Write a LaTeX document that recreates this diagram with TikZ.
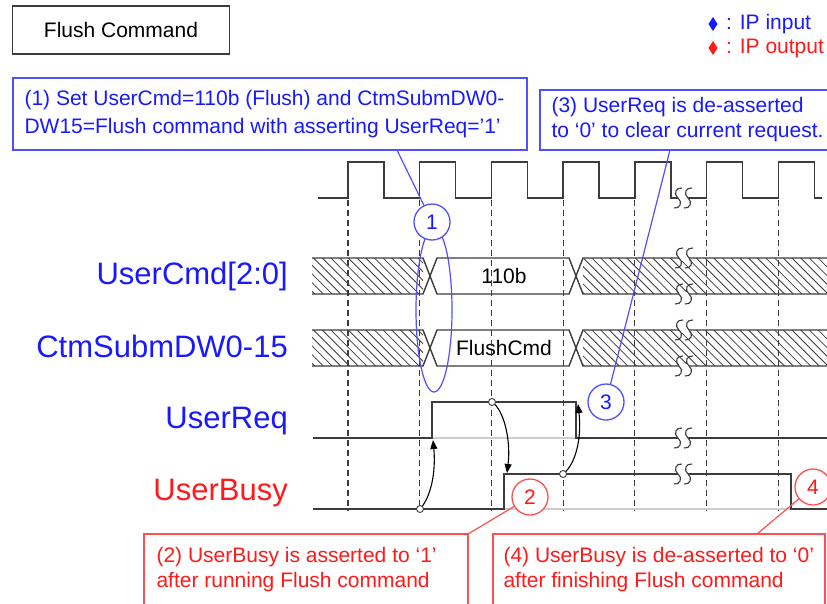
\documentclass[tikz,border=0pt]{standalone}
\usepackage{fontspec}
\setmainfont{Liberation Sans}
\usetikzlibrary{arrows.meta}
\definecolor{txtblue}{RGB}{25,25,255}
\definecolor{txtred}{RGB}{255,25,25}
\definecolor{bdblue}{RGB}{80,80,255}
\definecolor{bdred}{RGB}{255,80,80}
\definecolor{sig}{RGB}{60,60,60}
\definecolor{ghost}{RGB}{205,205,205}
\newcommand\fsz[2]{\fontsize{#1}{#2}\selectfont}
\newcommand\brkmark[2]{%
  \fill[white] ({#1-5},{#2-2.5}) rectangle ({#1+5},{#2+2.5});
  \foreach \dx in {-5,5} {
    \draw[breakmark] ({#1+\dx+4},{#2-10}) .. controls ({#1+\dx-2},{#2-11}) and ({#1+\dx-5},{#2-4}) .. ({#1+\dx},{#2}) .. controls ({#1+\dx+5},{#2+4}) and ({#1+\dx+2},{#2+11}) .. ({#1+\dx-4},{#2+10});
  }%
}
\tikzset{
  sigline/.style={draw=sig, line width=1.4pt},
  gridline/.style={draw=sig, line width=1.1pt, dash pattern=on 6pt off 4pt},
  ghostline/.style={draw=ghost, line width=1.4pt},
  hatchline/.style={draw=sig, line width=0.8pt},
  breakmark/.style={draw=sig, line width=1.1pt},
  bluebox/.style={draw=bdblue, line width=1.3pt, rectangle, inner sep=0pt},
  redbox/.style={draw=bdred, line width=1.3pt, rectangle, inner sep=0pt},
  titlebox/.style={draw=sig, line width=1.6pt, rectangle, inner sep=0pt, font=\fsz{21}{25}},
  bluetext/.style={text=txtblue, align=left, inner sep=0pt, anchor=west},
  redtext/.style={text=txtred, align=left, inner sep=0pt, anchor=west},
  bluecirc/.style={circle, draw=bdblue, line width=1.3pt, fill=white, minimum size=36pt, inner sep=0pt, text=txtblue, font=\fsz{21}{25}},
  redcirc/.style={circle, draw=bdred, line width=1.3pt, fill=white, minimum size=36pt, inner sep=0pt, text=txtred, font=\fsz{21}{25}},
  siglabel/.style={anchor=base east, font=\fsz{31}{35}, inner sep=0pt},
  bluelink/.style={draw=bdblue, line width=1.2pt},
  redlink/.style={draw=bdred, line width=1.2pt},
  causal/.style={draw=black, line width=1.1pt, -{Triangle[length=9pt,width=7pt]}},
  dotc/.style={circle, draw=sig, fill=white, line width=0.9pt, minimum size=7pt, inner sep=0pt},
  valtext/.style={font=\fsz{21}{25}, inner sep=0pt},
}
\begin{document}
\begin{tikzpicture}[x=1pt,y=-1pt]
\useasboundingbox (0,0) rectangle (827,603);

% title and legend
\node[titlebox, minimum width=217pt, minimum height=48pt] (title) at (121,30) {Flush Command};
\fill[txtblue] (713,17) -- (717.5,24) -- (713,31) -- (708.5,24) -- cycle;
\fill[txtred] (713,41) -- (717.5,48) -- (713,55) -- (708.5,48) -- cycle;
\node[anchor=west, inner sep=0pt, text=txtblue, font=\fsz{21}{25}] (leg1) at (726,24) {: IP input};
\node[anchor=west, inner sep=0pt, text=txtred, font=\fsz{21}{25}] (leg2) at (726,48) {: IP output};

% signal labels
\node[siglabel, text=txtblue] (lcmd) at (288,284) {UserCmd[2:0]};
\node[siglabel, text=txtblue] (ldw) at (288,357) {CtmSubmDW0-15};
\node[siglabel, text=txtblue] (lreq) at (288,428) {UserReq};
\node[siglabel, text=txtred] (lbusy) at (288,500) {UserBusy};

% hatching of buses
\begin{scope}
  \clip (312,258) rectangle (423,294) (583,258) rectangle (830,294)
        (312,330) rectangle (423,366) (583,330) rectangle (830,366);
  \foreach \i in {0,...,66} {
    \draw[hatchline] ({270+8.7*\i},258) -- ({306+8.7*\i},294);
    \draw[hatchline] ({270+8.7*\i},330) -- ({306+8.7*\i},366);
  }
\end{scope}

% bus outlines
\foreach \t in {258,330} {
  \pgfmathsetmacro\b{\t+36}
  \draw[sigline] (312,\t) -- (423,\t) -- (437,\b) -- (569,\b) -- (583,\t) -- (830,\t);
  \draw[sigline] (312,\b) -- (423,\b) -- (437,\t) -- (569,\t) -- (583,\b) -- (830,\b);
}
\node[valtext] (v1) at (504,276) {110b};
\node[valtext] (v2) at (504,348) {FlushCmd};

% clock
\draw[sigline] (318,198) foreach \k in {0,...,6} {
  -- ({348+71.7*\k},198) -- ({348+71.7*\k},162) -- ({384+71.7*\k},162) -- ({384+71.7*\k},198)
} -- (822,198);

% grid
\foreach \k in {0,...,6} \draw[gridline] ({348+71.7*\k},200) -- ({348+71.7*\k},511);

% ghost low levels
\draw[ghostline] (432,438) -- (576,438);
\draw[ghostline] (504,509) -- (791,509);

% UserReq and UserBusy
\draw[sigline] (313,438) -- (432,438) -- (432,402) -- (576,402) -- (576,438) -- (830,438);
\draw[sigline] (313,509) -- (504,509) -- (504,474) -- (791,474) -- (791,509) -- (830,509);

% break marks
\brkmark{683}{198}
\brkmark{684}{258}
\brkmark{684}{294}
\brkmark{684}{330}
\brkmark{684}{366}
\brkmark{683}{438}
\brkmark{683}{474}

% causal arrows
\coordinate (a1s) at (420,509); \coordinate (a1e) at (433,440);
\coordinate (a2s) at (492,402); \coordinate (a2e) at (507,473);
\coordinate (a3s) at (563,474); \coordinate (a3e) at (578,404);
\draw[causal] (a1s) .. controls (431,497) and (436,472) .. (a1e);
\draw[causal] (a2s) .. controls (504,410) and (511,440) .. (a2e);
\draw[causal] (a3s) .. controls (575,465) and (582,440) .. (a3e);
\node[dotc] (d1) at (a1s) {};
\node[dotc] (d2) at (a2s) {};
\node[dotc] (d3) at (a3s) {};

% callout boxes
\node[bluebox, minimum width=514pt, minimum height=72pt] (box1) at (270,114) {};
\node[bluetext, font=\fsz{21}{28}] (t1) at ([xshift=12pt]box1.west) {(1) Set UserCmd=110b (Flush) and CtmSubmDW0-\\DW15=Flush command with asserting UserReq=’1’};
\node[bluebox, minimum width=300pt, minimum height=60pt] (box3) at (690,120) {};
\node[bluetext, font=\fsz{21}{25}] (t3) at ([xshift=12pt]box3.west) {(3) UserReq is de-asserted\\to ‘0’ to clear current request.};
\node[redbox, minimum width=324pt, minimum height=71pt] (box2) at (306,569.5) {};
\node[redtext, font=\fsz{21}{25}] (t2) at ([xshift=13pt]box2.west) {(2) UserBusy is asserted to ‘1’\\after running Flush command};
\node[redbox, minimum width=332pt, minimum height=71pt] (box4) at (659,569.5) {};
\node[redtext, font=\fsz{21}{25}] (t4) at ([xshift=11pt]box4.west) {(4) UserBusy is de-asserted to ‘0’\\after finishing Flush command};

% ellipse around bus transitions
\draw[bluelink] (434,310) ellipse [x radius=18pt, y radius=82pt];

% callout circles and links
\node[bluecirc] (c1) at (432,222) {1};
\node[bluecirc] (c3) at (606,402) {3};
\node[redcirc] (c2) at (530,497) {2};
\node[redcirc] (c4) at (813,487) {4};
\coordinate (p1) at (397,150);
\coordinate (p3) at (670,150);
\coordinate (p2) at (468,534);
\coordinate (p4) at (757,534);
\draw[bluelink] (p1) -- (c1);
\draw[bluelink] (p3) -- (c3);
\draw[redlink] (p2) -- (c2);
\draw[redlink] (p4) -- (c4);
\end{tikzpicture}
\end{document}
